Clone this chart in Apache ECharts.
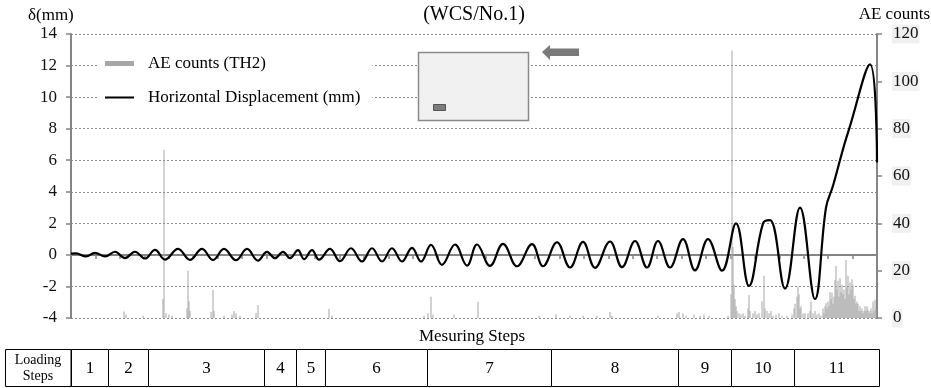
<!DOCTYPE html>
<html>
<head>
<meta charset="utf-8">
<script src="https://cdn.jsdelivr.net/npm/echarts@6/dist/echarts.min.js"></script>
<style>
html, body { margin: 0; padding: 0; background: #fff; }
#chart { width: 931px; height: 388px; }
</style>
</head>
<body>
<div id="chart"></div>
<script>
// measuring record, sample index 0 .. 806, ticked in 33 equal parts
const SAMPLE_MAX = 806
const TICK_PARTS = 33

// horizontal displacement (mm) at the turning points of each cycle
const dispSamples = [0, 5, 15, 24, 34, 44, 54, 64, 74, 84, 94, 107, 119, 131, 142, 153, 165, 176, 187, 196,
  204, 212, 219, 227, 233, 241, 248, 259, 269, 280, 291, 301, 311, 321, 331, 341, 350, 360, 371, 384,
  396, 406, 419, 432, 446, 461, 472, 486, 499, 512, 524, 539, 551, 564, 576, 587, 599, 612, 624, 637,
  651, 665, 678, 692, 699, 714, 729, 744, 755, 762, 772, 778, 799, 806]
const dispValues = [0.08, 0.1, -0.1, 0.13, -0.1, 0.2, -0.2, 0.2, -0.23, 0.32, -0.3, 0.38, -0.32, 0.38, -0.32, 0.38, -0.34, 0.38, -0.36, 0.19,
  -0.21, 0.19, -0.21, 0.3, -0.27, 0.3, -0.3, 0.38, -0.4, 0.42, -0.42, 0.42, -0.42, 0.42, -0.42, 0.45, -0.42, 0.63, -0.63, 0.66,
  -0.68, 0.66, -0.7, 0.7, -0.72, 0.68, -0.72, 0.8, -0.8, 0.82, -0.82, 0.85, -0.78, 0.88, -0.8, 0.88, -0.8, 1.0, -0.98, 1.0,
  -1.0, 2.0, -1.97, 2.0, 2.2, -2.14, 3.0, -2.81, 3.0, 4.38, 6.7, 7.95, 12.07, 5.86]

// AE counts (TH2)
const aeSamples = [53, 55, 72, 92, 93, 95, 98, 101, 116, 117, 118, 119, 140, 142, 143, 153, 161, 163, 165, 169,
  185, 187, 258, 261, 353, 357, 360, 362, 383, 407, 468, 485, 499, 512, 526, 539, 541, 587, 606, 608,
  612, 615, 623, 629, 633, 638, 657, 660, 661, 662, 663, 664, 665, 666, 668, 670, 672, 674, 677, 678,
  679, 682, 684, 686, 688, 691, 693, 694, 696, 698, 700, 702, 705, 708, 711, 716, 721, 723, 724, 726,
  727, 728, 729, 730, 732, 734, 737, 739, 740, 742, 744, 746, 748, 750, 752, 753, 754, 755, 756, 757,
  758, 759, 760, 761, 762, 763, 764, 765, 766, 767, 768, 769, 770, 771, 772, 773, 774, 775, 776, 777,
  778, 779, 780, 781, 782, 783, 784, 785, 786, 787, 788, 789, 790, 791, 792, 793, 794, 795, 796, 797,
  798, 799, 800, 801, 802, 803, 804, 805]
const aeCounts = [2.7, 1.5, 1, 8, 71, 2, 1.5, 1, 4, 20, 7, 3, 2.5, 11.8, 3, 1, 1.5, 3, 2, 1,
  2, 5.5, 3.8, 1, 1, 2, 9, 1.5, 1.5, 6.9, 1, 1.5, 1, 1, 1, 2.5, 1, 1, 2, 2.5,
  2, 1, 1.5, 1, 1.5, 1, 1, 10, 113, 30, 14, 8, 5, 3, 2, 1.5, 2, 1, 4, 9.7,
  3, 2, 3, 1.5, 2, 7, 17.9, 4, 3, 2, 3, 1, 1.5, 2, 1, 1, 1.5, 4, 6, 9,
  13.3, 10, 4, 5, 2, 2, 2, 3, 7, 2, 3, 1.5, 2, 1, 4, 2, 5, 6.2, 4, 7,
  5, 11, 8, 10.7, 6, 9, 16, 22, 12, 15.7, 9, 16.8, 11, 14, 10, 12, 8, 24.5, 13, 17.9,
  10, 15, 12, 16.4, 13.7, 8, 9.4, 6, 7, 6, 3, 5, 3, 4, 2, 3, 5, 3, 5, 3.5,
  2, 3, 4, 2, 7, 3, 7.7, 4]

// loading steps along the same record
const stepNames = ['1', '2', '3', '4', '5', '6', '7', '8', '9', '10', '11']
const stepStart = [0, 37, 77, 193, 225, 254, 356, 480, 607, 660, 723]
const stepEnd = [37, 77, 193, 225, 254, 356, 480, 607, 660, 723, 808]

const FONT = '"Liberation Serif", "Times New Roman", serif'
const AXIS_GRAY = '#858585'

const chart = echarts.init(document.getElementById('chart'))

const dispData = dispSamples.map((s, i) => [s, dispValues[i]])
const aeData = aeSamples.map((s, i) => [s, aeCounts[i]])
const stepData = stepNames.map((n, i) => [stepStart[i], stepEnd[i], n])

const titleText = { fontFamily: FONT, fontSize: 17, fontWeight: 'normal', color: '#000' }

const option = {
  animation: false,
  backgroundColor: '#fff',
  textStyle: { fontFamily: FONT },
  title: [
    { text: '(WCS/No.1)', left: 474, textAlign: 'center', top: 5, padding: 0,
      textStyle: { ...titleText, fontSize: 20 } },
    { text: 'δ(mm)', left: 28, top: 7, padding: 0, textStyle: titleText },
    { text: 'AE counts', right: 1, top: 6, padding: 0, textStyle: titleText },
    { text: 'Mesuring Steps', left: 472, textAlign: 'center', top: 328, padding: 0, textStyle: titleText },
  ],
  legend: {
    orient: 'vertical',
    left: 97,
    top: 50,
    padding: [5, 12, 5, 8],
    backgroundColor: '#fff',
    itemWidth: 29,
    itemHeight: 5,
    itemGap: 17,
    textStyle: { fontFamily: FONT, fontSize: 17, color: '#000', padding: [0, 0, 0, 9] },
    data: [
      { name: 'AE counts (TH2)', icon: 'path://M0,0h29v5h-29z' },
      { name: 'Horizontal Displacement (mm)', icon: 'path://M0,0h29v2h-29z' },
    ],
  },
  grid: [
    { left: 71, right: 54, top: 34, bottom: 70, outerBoundsMode: 'none' },
    { left: 71, right: 52, top: 349, height: 38, outerBoundsMode: 'none' },
  ],
  xAxis: [
    {
      type: 'value',
      gridIndex: 0,
      min: 0,
      max: SAMPLE_MAX,
      interval: SAMPLE_MAX / TICK_PARTS,
      axisLine: { onZero: true, onZeroAxisIndex: 0, lineStyle: { color: AXIS_GRAY, width: 2 } },
      axisTick: { length: 4, lineStyle: { color: AXIS_GRAY, width: 1.5 } },
      axisLabel: { show: false },
      splitLine: { show: false },
    },
    {
      type: 'value',
      gridIndex: 1,
      min: 0,
      max: 808,
      show: false,
    },
  ],
  yAxis: [
    {
      type: 'value',
      gridIndex: 0,
      min: -4,
      max: 14,
      interval: 2,
      axisLine: { show: true, lineStyle: { color: AXIS_GRAY, width: 2 } },
      axisTick: { show: true, length: 5, lineStyle: { color: AXIS_GRAY, width: 1.5 } },
      axisLabel: { margin: 14, fontFamily: FONT, fontSize: 17, color: '#111' },
      splitLine: { lineStyle: { color: '#8a8a8a', width: 1, type: [2, 2] } },
    },
    {
      type: 'value',
      gridIndex: 0,
      position: 'right',
      min: 0,
      max: 120,
      interval: 20,
      axisLine: { show: true, lineStyle: { color: AXIS_GRAY, width: 2 } },
      axisTick: { show: true, length: 5, lineStyle: { color: AXIS_GRAY, width: 1.5 } },
      axisLabel: { margin: 15, fontFamily: FONT, fontSize: 17, color: '#111',
        backgroundColor: '#f0f0f0', padding: [1, 1] },
      splitLine: { show: false },
    },
    {
      type: 'value',
      gridIndex: 1,
      min: 0,
      max: 1,
      show: false,
    },
  ],
  series: [
    {
      name: 'AE counts (TH2)',
      type: 'bar',
      xAxisIndex: 0,
      yAxisIndex: 1,
      barWidth: 1,
      itemStyle: { color: '#a6a6a6' },
      data: aeData,
      z: 1,
    },
    {
      name: 'Horizontal Displacement (mm)',
      type: 'line',
      xAxisIndex: 0,
      yAxisIndex: 0,
      smooth: 0.4,
      showSymbol: false,
      itemStyle: { color: '#000' },
      lineStyle: { color: '#000', width: 2.2 },
      data: dispData,
      z: 5,
    },
    {
      name: 'Loading Steps',
      type: 'custom',
      xAxisIndex: 1,
      yAxisIndex: 2,
      data: stepData,
      renderItem: (params, api) => {
        const a = api.coord([api.value(0), 1])
        const b = api.coord([api.value(1), 0])
        const x0 = Math.round(a[0]) + 0.5
        const x1 = Math.round(b[0]) + 0.5
        const y0 = Math.round(a[1]) + 0.5
        const y1 = Math.round(b[1]) - 0.5
        return {
          type: 'group',
          children: [
            { type: 'rect', shape: { x: x0, y: y0, width: x1 - x0, height: y1 - y0 },
              style: { fill: '#fff', stroke: '#000', lineWidth: 1 } },
            { type: 'text', style: { text: stepNames[params.dataIndex], x: (x0 + x1) / 2, y: (y0 + y1) / 2 + 1,
              align: 'center', verticalAlign: 'middle', font: '17px ' + FONT, fill: '#000' } },
          ],
        }
      },
    },
  ],
  graphic: [
    // "Loading Steps" header cell of the table
    { type: 'rect', shape: { x: 5.5, y: 349.5, width: 66, height: 37 },
      style: { fill: '#fff', stroke: '#000', lineWidth: 1 } },
    { type: 'rect', shape: { x: 70.5, y: 349.5, width: 1, height: 37 },
      style: { fill: '#000' } },
    { type: 'text', style: { text: 'Loading\nSteps', x: 38, y: 368, align: 'center', verticalAlign: 'middle',
      font: '14px ' + FONT, lineHeight: 16, fill: '#000' } },
    // specimen sketch
    { type: 'rect', shape: { x: 418.5, y: 52.5, width: 110, height: 68 },
      style: { fill: '#f1f1f1', stroke: '#8a8a8a', lineWidth: 1.5 }, z: 10 },
    { type: 'rect', shape: { x: 433.5, y: 104.5, width: 12, height: 6 },
      style: { fill: '#7d7d7d', stroke: '#555', lineWidth: 1 }, z: 11 },
    { type: 'polygon', shape: { points: [[542, 52], [550, 45], [550, 48.5], [579, 48.5], [579, 56], [550, 56], [550, 60]] },
      style: { fill: '#7a7a7a' }, z: 10 },
  ],
}

chart.setOption(option)
</script>
</body>
</html>
